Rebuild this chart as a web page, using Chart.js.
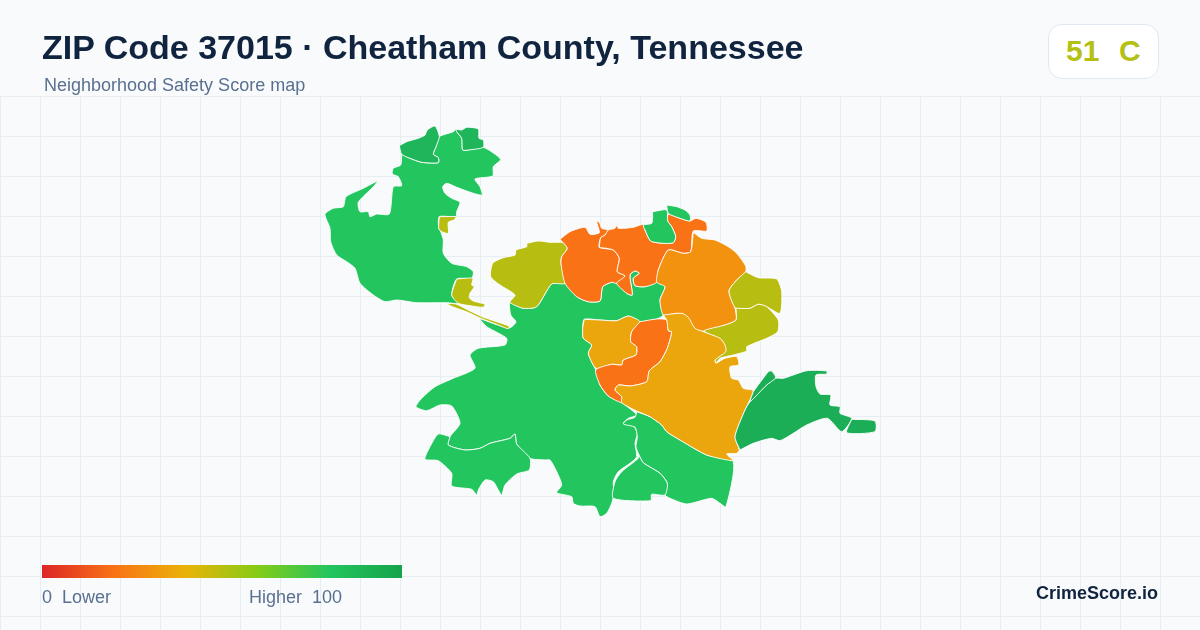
<!DOCTYPE html>
<html><head><meta charset="utf-8">
<style>
html,body{margin:0;padding:0;background:#f8fafc;width:1200px;height:630px;overflow:hidden;font-family:"Liberation Sans",Arial,sans-serif}
#wrap{position:relative;width:1200px;height:630px}
canvas{position:absolute;left:0;top:0}
.t{position:absolute;white-space:pre;line-height:1}
#title{left:42px;top:30px;font-size:34px;font-weight:700;color:#10233f}
#sub{left:44px;top:76px;font-size:18px;color:#5a7090}
#badge{position:absolute;left:1048px;top:24px;width:109px;height:53px;background:#fff;border:1px solid #e2e8f0;border-radius:14px}
#score{left:1066px;top:36px;font-size:30px;font-weight:700;color:#b4c014;word-spacing:1.5px}
#bar{position:absolute;left:42px;top:565px;width:360px;height:13px;background:linear-gradient(90deg,#dc2626 0%,#f97316 20%,#eab308 40%,#84cc16 60%,#22c55e 80%,#16a34a 100%)}
#lo{left:42px;top:588px;font-size:18px;color:#5a7090}
#hi{left:249px;top:588px;font-size:18px;color:#5a7090}
#brand{left:1036px;top:584px;font-size:18px;font-weight:700;color:#10233f}
</style>
<script src="https://cdn.jsdelivr.net/npm/chart.js@4"></script>
</head><body><div id="wrap">
<canvas id="c" width="1200" height="630"></canvas>
<div class="t" id="title">ZIP Code 37015 · Cheatham County, Tennessee</div>
<div class="t" id="sub">Neighborhood Safety Score map</div>
<div id="badge"></div>
<div class="t" id="score">51  C</div>
<div id="bar"></div>
<div class="t" id="lo">0  Lower</div>
<div class="t" id="hi">Higher  100</div>
<div class="t" id="brand">CrimeScore.io</div>
</div>
<script>
const GREEN="#22c55e",DARK="#1bae56",DARK2="#1fb55a",ORANGE="#f97316",ORANGE2="#f3920f",AMBER="#eaa60c",OLIVE="#b8bd12";
const regionNW=[[401.7,154.3],[410,158.3],[421.7,162.3],[438.3,162.7],[438.3,157.7],[433.3,154.3],[436,146.7],[439.3,136.7],[453.3,131.7],[455.7,129],[456.7,131.7],[461.7,138.3],[462.7,150],[468.3,150],[483.3,147.3],[500.7,159.3],[493.3,166.7],[492.7,176],[475,179],[480,186.7],[482.3,195],[475.7,194],[466.7,191],[456.7,187.3],[446.7,183.3],[442.7,186.7],[445,193.3],[451.7,198.3],[460,202.3],[456.7,211.7],[456,216.7],[439.3,216.7],[438.7,228.3],[440.7,231.7],[443.3,240],[443.3,253.3],[451.7,263.3],[466.7,266.7],[473.3,271.7],[471.7,278.3],[456.7,279],[451.7,295],[458.3,303.3],[446.7,302.7],[416.7,302.7],[396.7,300],[385,301.7],[373.3,295],[360,283.3],[355,268.3],[346.7,261.7],[336.7,255],[330.7,241.7],[330,228.3],[325,214.3],[333.3,208.3],[343.3,206.7],[346,196.7],[363.3,188.3],[377.7,181],[373.3,186.7],[358.3,202.3],[360,211.7],[368.3,211.7],[370,216.7],[376.7,214],[389.3,214],[393.3,186.7],[401.7,185.7],[398.3,176.7],[392.3,174],[393.3,168.3],[400.7,165]];
const regionNorthA=[[399.3,145.7],[406.7,141.7],[418.3,138.3],[425,135],[427.3,130],[435,126],[439.3,136.7],[436,146.7],[433.3,154.3],[438.3,157.7],[438.3,162.7],[421.7,162.3],[410,158.3],[401.7,154.3]];
const regionNorthB=[[455.7,129],[461.7,130],[466.7,127.3],[478.3,129],[479,138.3],[483.3,140],[483.3,147.3],[468.3,150],[462.7,150],[461.7,138.3],[456.7,131.7]];
const regionPatch=[[439.3,216.7],[456,216.7],[454,220],[448.3,222.3],[448.3,233.3],[441.7,231.7],[438.7,228.3]];
const regionRiver=[[456.7,279],[472.7,278.3],[471.7,285],[474.3,286.7],[470,293.3],[469.3,297.7],[473.3,301],[485,304.3],[483.3,307.3],[470,305.7],[458.3,303.3],[451.7,295]];
const regionSliver=[[446,303.5],[456,304],[470,311],[483,317],[509,326],[509,328],[507,328.5],[497,324.5],[480,318],[467,312],[453,307]];
const regionWestOlive=[[526.7,243.3],[538.3,241],[550,242.3],[563.3,242.7],[567.3,248.3],[561.7,256.7],[561,263.3],[565,283.3],[551.7,284],[536.7,306.7],[523.3,308.3],[510,302.3],[515,295],[500,285],[490.7,276.7],[492.7,263.3],[503.3,257.7],[515,255],[516,250],[526.7,246.7]];
const regionOrangeWest=[[560,239.3],[570,231.7],[585,227.3],[590,234.3],[599.3,232.7],[596.7,221.7],[599.3,222.3],[601.7,228.3],[608.3,230],[605,235],[600.7,237.7],[599.3,247.3],[613.3,250],[619.3,258.3],[617.3,271.7],[625,276],[616.7,283.3],[611.7,282.3],[602.7,286.7],[600,301],[588.3,301.7],[576.7,296.7],[565,283.3],[561,263.3],[561.7,256.7],[567.3,248.3]];
const regionOrangeNorth=[[599.3,247.3],[600.7,237.7],[605,235],[608.3,230],[615,228.3],[617.3,224.3],[618.3,228.3],[633.3,227.3],[643.3,224.3],[645,230],[650.7,241],[663.3,243.3],[673.3,242.7],[675.7,236.7],[671.7,226.7],[667.7,221],[668.3,214.3],[680,218.3],[690,221],[696,218.3],[706,222.3],[706.7,231],[693.3,231],[690.7,251.7],[683.3,253.3],[668.3,250],[658.3,270],[656.7,282.3],[645,286.7],[635,285.7],[633.3,278.3],[639.3,273.3],[635,271],[630,275],[632.3,295],[626.7,293.3],[616.7,283.3],[625,276],[617.3,271.7],[619.3,258.3],[613.3,250]];
const regionNorthC=[[652.7,211.7],[666.7,210],[667.7,221],[671.7,226.7],[675.7,236.7],[673.3,242.7],[663.3,243.3],[650.7,241],[645,230],[643.3,225],[651.7,223.3]];
const regionNorthD=[[666.7,205],[676.7,206.7],[685,210],[690,215],[690,221],[680,218.3],[668.3,213.3]];
const regionOrangeEast=[[693.3,232.3],[701.7,238.3],[715,240],[728.3,246.7],[736.7,253.3],[745.7,266],[745.7,271.7],[736.7,280],[729,291],[735,308.3],[736,320],[725,325],[704,331],[696,330],[685,315],[676.7,313.3],[663.3,315],[660,300],[665,286.7],[656.7,282.3],[658.3,270],[668.3,250],[683.3,253.3],[690.7,251.7]];
const regionOliveNE=[[745.7,271.7],[758.3,277.7],[776.7,279],[781.7,291.7],[780,313.3],[766.7,306.7],[758.3,304.3],[750,308.3],[735.7,308.3],[729,291],[736.7,280]];
const regionOliveE=[[736,308.3],[750,308.3],[758.3,304.3],[766.7,306.7],[778.3,320],[777.7,331.7],[766.7,338.3],[746.7,346.7],[746.7,351],[733.3,355],[720,358.3],[716,363.3],[715,358.3],[725,349],[721.7,340],[704,331],[725,325],[736,320]];
const regionAmberWest=[[584.3,319.3],[600,320],[616.7,320.7],[628.3,316],[640,321.7],[631.7,331.7],[630.7,341.7],[636.7,346.7],[636,355],[623.3,360],[621.7,365],[611.7,364.3],[596,368.3],[588.3,353.3],[591.7,345],[583.3,338.3],[582.7,328.3]];
const regionOrangeCenter=[[640,321.7],[656.7,319],[666.7,320],[668.3,330.7],[671.7,331.7],[667.3,348.3],[660,361.7],[649.3,370.7],[646.7,381.7],[630,386],[618.3,385],[615,390],[621.7,396.7],[621.7,402.7],[608.3,396],[600,385],[595.7,370],[611.7,364.3],[621.7,365],[623.3,360],[636,355],[636.7,346.7],[630.7,341.7],[631.7,331.7]];
const regionAmberSouth=[[663.3,315],[681.7,313.3],[688.3,317.3],[695,328.3],[703.3,331.7],[720,338.3],[725,345],[725.7,351.7],[715,360],[716,363.3],[725,358.3],[736.7,356.7],[738.7,365],[730,366.7],[731.7,378.3],[738.3,380],[743.3,388.3],[753.3,390.7],[745,410],[735,436.7],[739.3,450],[736.7,453.3],[726.7,454],[733.3,460.7],[706.7,455],[680,440],[666.7,431.7],[661.7,425],[650,416.7],[636.7,411],[621.7,402.7],[621.7,396.7],[615,390],[618.3,385],[630,386],[646.7,381.7],[649.3,370.7],[660,361.7],[667.3,348.3],[671.7,331.7],[668.3,330.7],[666.7,320]];
const regionEast=[[740,450],[735,436.7],[745,410],[750,401.7],[766.7,385],[775.7,378.3],[783.3,378.3],[806.7,370.7],[826.7,371],[826.7,374],[816,375],[816,386.7],[820,394],[830.7,395],[830,405],[840,406.7],[840,413.3],[851.7,418.3],[841.7,431.7],[827.3,418.3],[806.7,425],[793.3,433.3],[780,440.7],[771.7,438.3],[753.3,443.3]];
const regionEastStrip=[[753.3,391.7],[768.3,371.7],[771.7,371],[775.7,377.7],[766.7,385],[750,401.7]];
const regionEastTip=[[851.7,419.3],[875,421],[875,431.7],[846.7,432.7]];
const regionSouthEast=[[636.7,411.7],[650,416.7],[661.7,425],[666.7,431.7],[680,440],[706.7,455],[733.3,461.7],[726,506.7],[720,503.3],[711.7,498.3],[686.7,504],[670,498.3],[665,495],[667.3,483.3],[660,473.3],[643.3,462.7],[638.3,453.3],[636,446.7],[637.3,436.7],[635,427.3],[623.3,424],[626.7,420],[635,417.3]];
const regionSouth=[[638.3,454],[643.3,462.7],[660,473.3],[667.3,483.3],[665,495],[651.7,494.3],[650.7,500.7],[613.3,498.3],[615,481.7],[621.7,471.7],[638.3,458.3]];
const regionSouthWest=[[450,436.7],[448.3,445],[465,450],[480,448.3],[490,443.3],[510,438.3],[515,434],[516.7,444],[530,458.3],[529.3,470],[516.7,474],[505,485],[501.7,495],[498.3,490],[493.3,481.7],[485,480],[478.3,490],[476.7,495],[471.7,489.3],[451.7,486],[451.7,473.3],[438.3,460.7],[425,459.3],[430,446.7],[438.3,434]];
const regionMain=[[479,318.3],[486.7,326.7],[506.7,338.3],[505,345],[478.3,348.3],[470,355],[475,368.3],[453.3,378.3],[435,386.7],[421.7,398.3],[416,406.7],[426.7,410.7],[440,405],[451.7,406],[460,423.3],[450,436.7],[448.3,445],[465,450],[480,448.3],[490,443.3],[510,438.3],[515,434],[516.7,444],[530,458.3],[545,460],[550,460],[556.7,471.7],[561.7,485],[556.7,492.7],[571.7,496.7],[573.3,503.3],[580,506],[595,506.7],[600,516.7],[606.7,513.3],[611.7,503.3],[614,493.3],[613.3,481.7],[618.3,471.7],[630,463.3],[636.7,456.7],[635,443.3],[637.3,433.3],[633.3,426],[623.3,423.3],[628.3,418.3],[636.7,415],[621.7,402.7],[608.3,396],[600,385],[595.7,370],[588.3,353.3],[591.7,345],[583.3,338.3],[582.7,328.3],[584.3,319.3],[600,320],[616.7,320.7],[628.3,316],[640,321.7],[656.7,319],[663.3,315],[660,300],[665,286.7],[656.7,282.3],[645,286.7],[635,285.7],[633.3,278.3],[639.3,273.3],[635,271],[630,275],[632.3,295],[626.7,293.3],[616.7,283.3],[611.7,282.3],[602.7,286.7],[600,301],[588.3,301.7],[576.7,296.7],[565,283.3],[551.7,284],[536.7,306.7],[523.3,308.3],[510,302.3],[510.7,315],[516,322],[509,328]];

const regions=[
 [regionEastTip,DARK],[regionEastStrip,DARK],[regionEast,DARK],
 [regionAmberSouth,AMBER],[regionOrangeCenter,ORANGE],[regionAmberWest,AMBER],
 [regionOliveE,OLIVE],[regionOliveNE,OLIVE],[regionOrangeEast,ORANGE2],
 [regionNorthD,GREEN],[regionNorthC,GREEN],[regionOrangeNorth,ORANGE],[regionOrangeWest,ORANGE],
 [regionWestOlive,OLIVE],[regionSliver,OLIVE],[regionRiver,OLIVE],[regionPatch,OLIVE],
 [regionNorthB,DARK2],[regionNorthA,DARK2],
 [regionSouth,GREEN],[regionSouthEast,GREEN],[regionSouthWest,GREEN],[regionMain,GREEN],[regionNW,GREEN]
];
const gridYTicks=[96.5,136.5,176.5,216.5,256.5,296.5,336.5,376.5,416.5,456.5,496.5,536.5,576.5,616.5];
new Chart(document.getElementById('c'),{
 type:'scatter',
 data:{datasets:regions.map(([pts,col])=>({
   data:pts.concat([pts[0]]).map(p=>({x:p[0],y:p[1]})),
   showLine:true,fill:'shape',tension:.22,backgroundColor:col,borderColor:'#ffffff',borderWidth:.9,
   pointRadius:0,pointHoverRadius:0,clip:false
 }))},
 options:{responsive:false,animation:false,devicePixelRatio:1,events:[],
  layout:{padding:{top:96,left:0,right:0,bottom:0}},
  plugins:{legend:{display:false},tooltip:{enabled:false},title:{display:false}},
  scales:{
   x:{type:'linear',min:0,max:1200,ticks:{display:false,stepSize:40},border:{display:false},
      afterBuildTicks:a=>{a.ticks=[];for(let v=.5;v<1200;v+=40)a.ticks.push({value:v});},
      grid:{color:'#e6eef2',lineWidth:1,drawTicks:false}},
   y:{type:'linear',reverse:true,min:96,max:630,ticks:{display:false},border:{display:false},
      afterBuildTicks:a=>{a.ticks=gridYTicks.map(v=>({value:v}));},
      grid:{color:'#e6eef2',lineWidth:1,drawTicks:false}}
  }
 }
});
</script>
</body></html>
